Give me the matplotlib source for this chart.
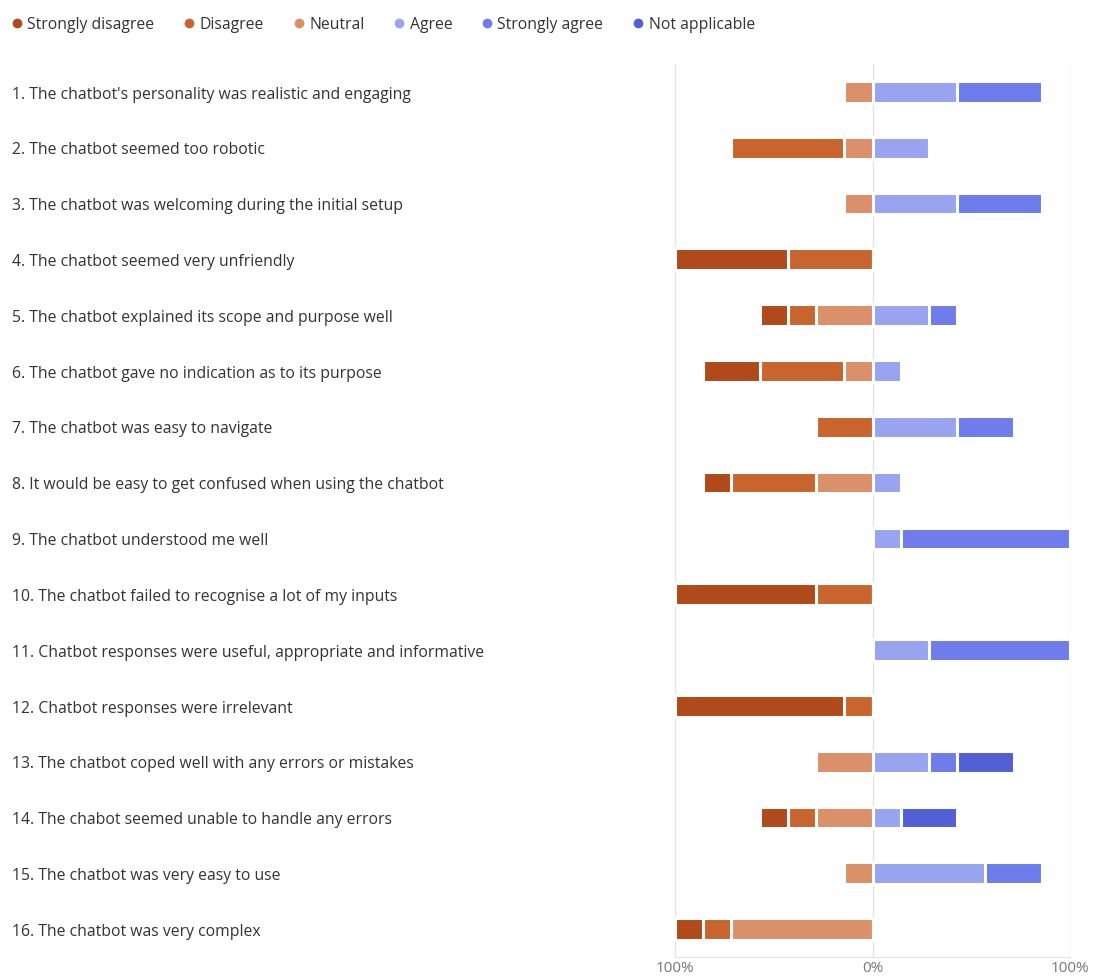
import numpy as np
import matplotlib
matplotlib.use('Agg')
import matplotlib.pyplot as plt
from matplotlib.lines import Line2D
from matplotlib.transforms import blended_transform_factory

plt.rcParams['font.family'] = ['Open Sans', 'DejaVu Sans']

# Data: response counts (7 respondents per statement)
statements = [
    "1. The chatbot's personality was realistic and engaging",
    "2. The chatbot seemed too robotic",
    "3. The chatbot was welcoming during the initial setup",
    "4. The chatbot seemed very unfriendly",
    "5. The chatbot explained its scope and purpose well",
    "6. The chatbot gave no indication as to its purpose",
    "7. The chatbot was easy to navigate",
    "8. It would be easy to get confused when using the chatbot",
    "9. The chatbot understood me well",
    "10. The chatbot failed to recognise a lot of my inputs",
    "11. Chatbot responses were useful, appropriate and informative",
    "12. Chatbot responses were irrelevant",
    "13. The chatbot coped well with any errors or mistakes",
    "14. The chabot seemed unable to handle any errors",
    "15. The chatbot was very easy to use",
    "16. The chatbot was very complex",
]
categories = ['Strongly disagree', 'Disagree', 'Neutral', 'Agree', 'Strongly agree', 'Not applicable']
strongly_disagree = [0, 0, 0, 4, 1, 2, 0, 1, 0, 5, 0, 6, 0, 1, 0, 1]
disagree          = [0, 4, 0, 3, 1, 3, 2, 3, 0, 2, 0, 1, 0, 1, 0, 1]
neutral           = [1, 1, 1, 0, 2, 1, 0, 2, 0, 0, 0, 0, 2, 2, 1, 5]
agree             = [3, 2, 3, 0, 2, 1, 3, 1, 1, 0, 2, 0, 2, 1, 4, 0]
strongly_agree    = [3, 0, 3, 0, 1, 0, 2, 0, 6, 0, 5, 0, 1, 0, 2, 0]
not_applicable    = [0, 0, 0, 0, 0, 0, 0, 0, 0, 0, 0, 0, 2, 2, 0, 0]
n_resp = 7

colors = ['#B04A1B', '#C8652F', '#DA9068', '#98A4F0', '#6E7CEC', '#525FD5']

fig = plt.figure(figsize=(10.94, 9.79), dpi=100)
ax = fig.add_axes([675 / 1094, 1 - 958 / 979, 395 / 1094, 893 / 979])

y = np.arange(len(statements))
h = 0.39
ew = 2.2

# negative side: neutral nearest zero, then disagree, then strongly disagree
neg = [neutral, disagree, strongly_disagree]
neg_cols = [colors[2], colors[1], colors[0]]
left = np.zeros(len(y))
for vals, c in zip(neg, neg_cols):
    w = np.array(vals) / n_resp
    ax.barh(y, -w, left=-left, height=h, color=c, edgecolor='white', linewidth=ew, zorder=3)
    left += w

pos = [agree, strongly_agree, not_applicable]
pos_cols = [colors[3], colors[4], colors[5]]
left = np.zeros(len(y))
for vals, c in zip(pos, pos_cols):
    w = np.array(vals) / n_resp
    ax.barh(y, w, left=left, height=h, color=c, edgecolor='white', linewidth=ew, zorder=3)
    left += w

ax.set_xlim(-1.0, 1.0)
ax.set_ylim(len(y) - 0.5, -0.5)
ax.set_xticks([-1, 0, 1])
ax.set_xticklabels(['100%', '0%', '100%'], color='#777777', fontsize=11)
ax.tick_params(axis='x', length=0, pad=2)
ax.set_yticks([])
for x in [-1, 0, 1]:
    ax.axvline(x, color='#E3E3E3', linewidth=1.0, zorder=1)
for s in ['top', 'left', 'right']:
    ax.spines[s].set_visible(False)
ax.spines['bottom'].set_color('#E3E3E3')

trans = blended_transform_factory(fig.transFigure, ax.transData)
for yi, s in zip(y, statements):
    ax.text(12 / 1094, yi + 0.03, s, transform=trans, ha='left', va='center',
            fontsize=11.3, color='#333333')

handles = [Line2D([], [], marker='o', linestyle='', markersize=6, color=c) for c in colors]
fig.legend(handles, categories, loc='upper left', bbox_to_anchor=(-0.006, 0.997),
           ncol=6, frameon=False, fontsize=11.3, handletextpad=0.05,
           columnspacing=1.63, handlelength=1.2, labelcolor='#333333')

fig.savefig('out.png', dpi=100)
